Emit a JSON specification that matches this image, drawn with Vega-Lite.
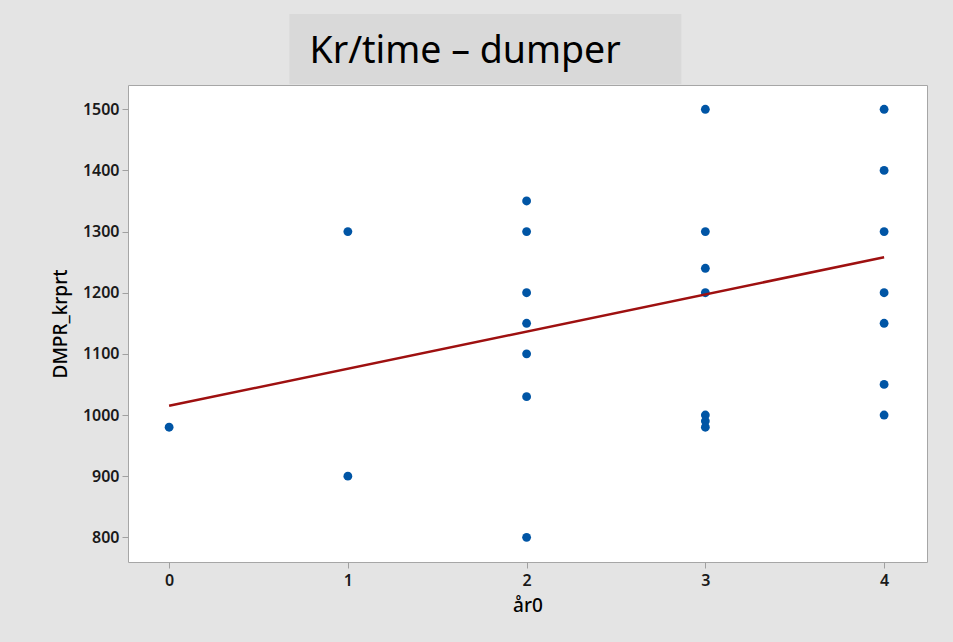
{
  "$schema": "https://vega.github.io/schema/vega-lite/v6.json",
  "autosize": {"type": "none"},
  "padding": {"left": 128, "top": 85, "right": 26, "bottom": 80},
  "width": 799,
  "height": 477,
  "background": "#e4e4e4",
  "config": {
    "view": {"stroke": "#a6a6a6", "strokeWidth": 1, "fill": "#ffffff"},
    "axis": {
      "labelFont": "Noto Sans",
      "labelFontSize": 16,
      "labelFontWeight": 600,
      "labelColor": "#1a1a1a",
      "titleFont": "Noto Sans",
      "titleFontSize": 19,
      "titleFontWeight": 500,
      "titleColor": "#000000",
      "tickColor": "#a0a0a0",
      "tickSize": 6,
      "domain": false,
      "grid": false
    }
  },
  "datasets": {
    "pts": [
      {"ar0": 0, "DMPR_krprt": 980},
      {"ar0": 1, "DMPR_krprt": 1300},
      {"ar0": 1, "DMPR_krprt": 900},
      {"ar0": 2, "DMPR_krprt": 1350},
      {"ar0": 2, "DMPR_krprt": 1300},
      {"ar0": 2, "DMPR_krprt": 1200},
      {"ar0": 2, "DMPR_krprt": 1150},
      {"ar0": 2, "DMPR_krprt": 1100},
      {"ar0": 2, "DMPR_krprt": 1030},
      {"ar0": 2, "DMPR_krprt": 800},
      {"ar0": 3, "DMPR_krprt": 1500},
      {"ar0": 3, "DMPR_krprt": 1300},
      {"ar0": 3, "DMPR_krprt": 1240},
      {"ar0": 3, "DMPR_krprt": 1200},
      {"ar0": 3, "DMPR_krprt": 1000},
      {"ar0": 3, "DMPR_krprt": 990},
      {"ar0": 3, "DMPR_krprt": 980},
      {"ar0": 4, "DMPR_krprt": 1500},
      {"ar0": 4, "DMPR_krprt": 1400},
      {"ar0": 4, "DMPR_krprt": 1300},
      {"ar0": 4, "DMPR_krprt": 1200},
      {"ar0": 4, "DMPR_krprt": 1150},
      {"ar0": 4, "DMPR_krprt": 1050},
      {"ar0": 4, "DMPR_krprt": 1000}
    ],
    "fit": [
      {"ar0": 0, "DMPR_krprt": 1015},
      {"ar0": 4, "DMPR_krprt": 1258}
    ],
    "box": [
      {"x0": 0.673, "x1": 2.866, "y0": 1541, "y1": 1656, "tx": 0.785, "ty": 1575.5, "title": "Kr/time – dumper"}
    ]
  },
  "layer": [
    {
      "data": {"name": "box"},
      "mark": {"type": "rect", "fill": "#d9d9d9", "clip": false},
      "encoding": {
        "x": {"field": "x0", "type": "quantitative"},
        "x2": {"field": "x1"},
        "y": {"field": "y0", "type": "quantitative"},
        "y2": {"field": "y1"}
      }
    },
    {
      "data": {"name": "box"},
      "mark": {"type": "text", "align": "left", "baseline": "alphabetic", "font": "Noto Sans", "fontSize": 37.5, "color": "#000000", "clip": false},
      "encoding": {
        "x": {"field": "tx", "type": "quantitative"},
        "y": {"field": "ty", "type": "quantitative"},
        "text": {"field": "title"}
      }
    },
    {
      "data": {"name": "pts"},
      "mark": {"type": "circle", "size": 78, "opacity": 1, "color": "#0055a5"},
      "encoding": {
        "x": {
          "field": "ar0", "type": "quantitative",
          "scale": {"domain": [-0.23, 4.24], "nice": false, "zero": false},
          "axis": {"title": "år0", "values": [0, 1, 2, 3, 4], "format": "d", "labelPadding": 4, "titlePadding": 8}
        },
        "y": {
          "field": "DMPR_krprt", "type": "quantitative",
          "scale": {"domain": [759.6, 1539.7], "nice": false, "zero": false},
          "axis": {"title": "DMPR_krprt", "values": [800, 900, 1000, 1100, 1200, 1300, 1400, 1500], "format": "d", "labelPadding": 3, "titlePadding": 12}
        }
      }
    },
    {
      "data": {"name": "fit"},
      "mark": {"type": "line", "color": "#9e1010", "strokeWidth": 2.5},
      "encoding": {
        "x": {"field": "ar0", "type": "quantitative"},
        "y": {"field": "DMPR_krprt", "type": "quantitative"}
      }
    }
  ]
}
